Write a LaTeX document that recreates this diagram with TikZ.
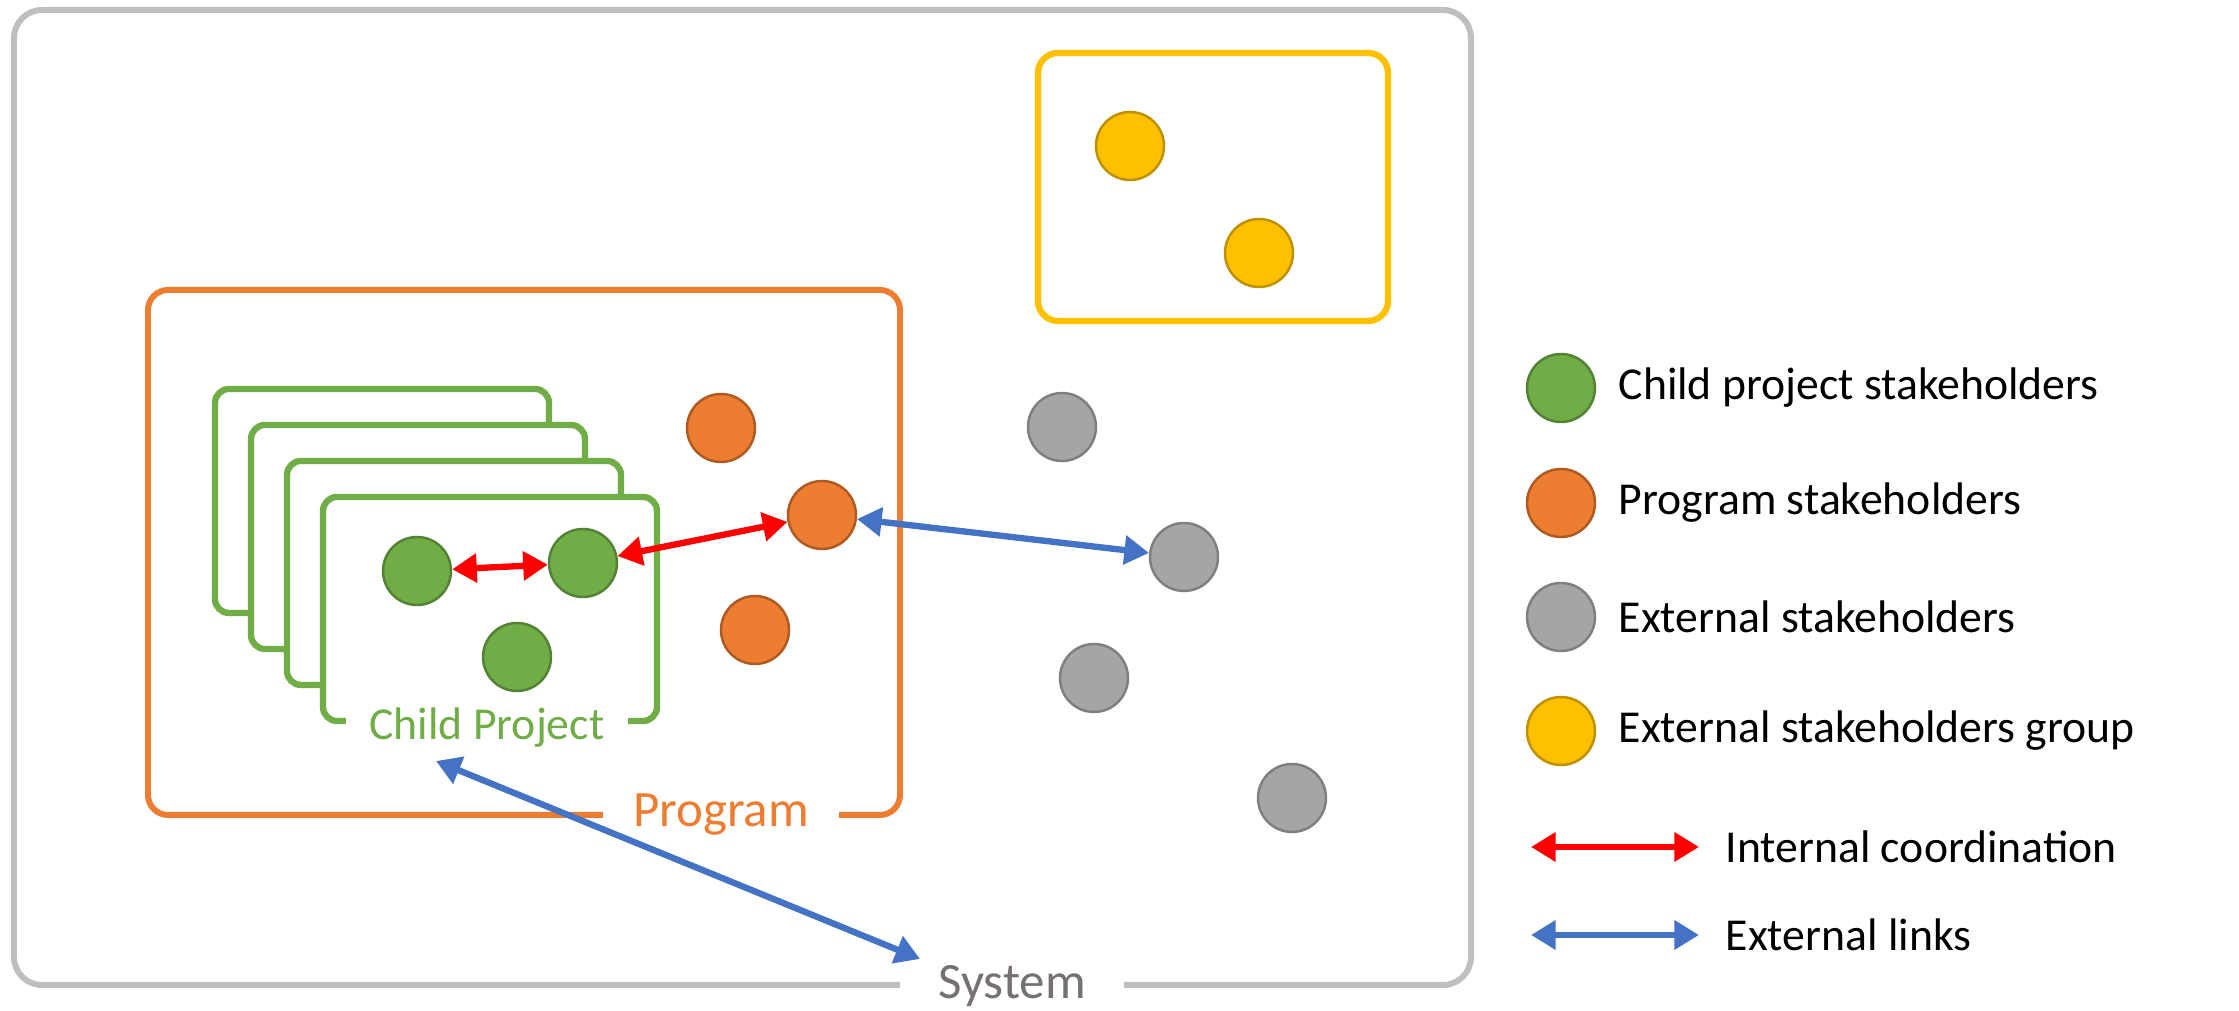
\documentclass[tikz,border=0pt]{standalone}
\usepackage{fontspec}
\setmainfont{Carlito}
\usetikzlibrary{arrows.meta}
\definecolor{cpgreen}{HTML}{70AD47}
\definecolor{cpgreenD}{HTML}{548235}
\definecolor{prorange}{HTML}{ED7D31}
\definecolor{prorangeD}{HTML}{AE5A21}
\definecolor{exgray}{HTML}{A5A5A5}
\definecolor{exgrayD}{HTML}{7F7F7F}
\definecolor{exyellow}{HTML}{FFC000}
\definecolor{exyellowD}{HTML}{BF9000}
\definecolor{sysgray}{HTML}{BFBFBF}
\definecolor{systext}{HTML}{767171}
\definecolor{linkblue}{HTML}{4472C4}
\begin{document}
\begin{tikzpicture}[
    dot/.style={circle,minimum size=0.68cm,inner sep=0pt,line width=0.7pt},
    cpdot/.style={dot,fill=cpgreen,draw=cpgreenD},
    prdot/.style={dot,fill=prorange,draw=prorangeD},
    exdot/.style={dot,fill=exgray,draw=exgrayD},
    grdot/.style={dot,fill=exyellow,draw=exyellowD},
    intlink/.style={{Triangle[length=7pt,width=8pt]}-{Triangle[length=7pt,width=8pt]},line width=1.8pt,red},
    extlink/.style={{Triangle[length=7pt,width=8pt]}-{Triangle[length=7pt,width=8pt]},line width=1.8pt,linkblue},
    boxlabel/.style={fill=white,inner ysep=1pt,font=\fontsize{14.5}{17}\selectfont},
    legtext/.style={anchor=west,inner sep=0pt,font=\fontsize{13}{16}\selectfont}
  ]
  \useasboundingbox (0,0) rectangle (22.39,10.11);

  %system
  \draw[sysgray,line width=1.7pt,rounded corners=0.28cm] (0.14,0.26) rectangle (14.71,10.01);
  \node[boxlabel,text=systext,inner xsep=0.38cm] (syslbl) at (10.12,0.25) {System};

  %gruppo esterno
  \draw[exyellow,line width=1.8pt,rounded corners=0.2cm] (10.38,6.90) rectangle (13.88,9.58);
  \node[grdot] (y1) at (11.30,8.65) {};
  \node[grdot] (y2) at (12.59,7.58) {};

  %program
  \draw[prorange,line width=1.7pt,rounded corners=0.2cm] (1.48,1.96) rectangle (9.00,7.21);
  \node[boxlabel,text=prorange,inner xsep=0.3cm] (prlbl) at (7.21,1.96) {Program};

  %child project
  \draw[cpgreen,line width=1.8pt,fill=white,rounded corners=0.14cm] (2.15,3.98) rectangle (5.49,6.22);
  \draw[cpgreen,line width=1.8pt,fill=white,rounded corners=0.14cm] (2.51,3.62) rectangle (5.85,5.86);
  \draw[cpgreen,line width=1.8pt,fill=white,rounded corners=0.14cm] (2.87,3.26) rectangle (6.21,5.50);
  \draw[cpgreen,line width=1.8pt,fill=white,rounded corners=0.14cm] (3.23,2.90) rectangle (6.57,5.14);
  \node[boxlabel,text=cpgreen,inner xsep=0.24cm,font=\fontsize{13}{16}\selectfont] (cplbl) at (4.87,2.83) {Child Project};

  \node[cpdot] (g1) at (4.17,4.40) {};
  \node[cpdot] (g2) at (5.83,4.48) {};
  \node[cpdot] (g3) at (5.17,3.54) {};

  \node[prdot] (o1) at (7.21,5.83) {};
  \node[prdot] (o2) at (8.22,4.96) {};
  \node[prdot] (o3) at (7.55,3.81) {};

  \node[exdot] (e1) at (10.62,5.84) {};
  \node[exdot] (e2) at (11.84,4.54) {};
  \node[exdot] (e3) at (10.94,3.33) {};
  \node[exdot] (e4) at (12.92,2.13) {};

  %collegamenti
  \draw[intlink] (g1) -- (g2);
  \draw[intlink] (g2) -- (o2);
  \draw[extlink] (o2) -- (e2);
  \coordinate (cpend) at (4.36,2.50);
  \coordinate (sysend) at (9.20,0.52);
  \draw[extlink] (cpend) -- (sysend);

  %legenda
  \node[cpdot] (lg1) at (15.61,6.23) {};
  \node[prdot] (lg2) at (15.61,5.08) {};
  \node[exdot] (lg3) at (15.61,3.94) {};
  \node[grdot] (lg4) at (15.61,2.80) {};
  \node[legtext] (lt1) at (16.18,6.23) {Child project stakeholders};
  \node[legtext] (lt2) at (16.18,5.08) {Program stakeholders};
  \node[legtext] (lt3) at (16.18,3.94) {External stakeholders};
  \node[legtext] (lt4) at (16.18,2.80) {External stakeholders group};

  \coordinate (ra) at (15.31,1.64);
  \coordinate (rb) at (16.99,1.64);
  \coordinate (ba) at (15.31,0.76);
  \coordinate (bb) at (16.99,0.76);
  \draw[intlink] (ra) -- (rb);
  \draw[extlink] (ba) -- (bb);
  \node[legtext] (lt5) at (17.25,1.64) {Internal coordination};
  \node[legtext] (lt6) at (17.25,0.76) {External links};
\end{tikzpicture}
\end{document}
